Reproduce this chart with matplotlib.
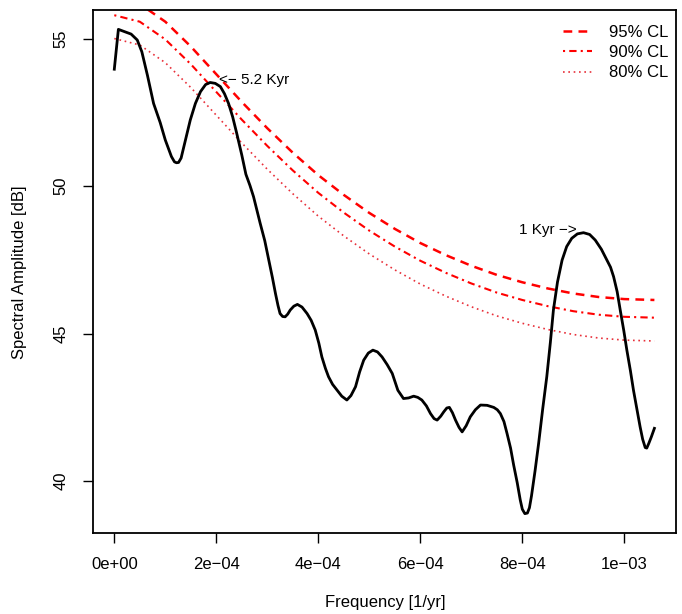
import numpy as np
import matplotlib
matplotlib.use('Agg')
import matplotlib.pyplot as plt

plt.rcParams['font.family'] = ['Liberation Sans', 'DejaVu Sans']

# spectrum (frequency in 1e-3 1/yr, amplitude in dB)
freq = [0.000, 0.008, 0.033, 0.045, 0.054, 0.065, 0.077, 0.090, 0.100, 0.112,
        0.118, 0.122, 0.126, 0.131, 0.140, 0.149, 0.159, 0.169, 0.179, 0.188,
        0.198, 0.208, 0.216, 0.224, 0.232, 0.240, 0.250, 0.258, 0.266, 0.273,
        0.286, 0.295, 0.303, 0.310, 0.316, 0.321, 0.325, 0.330, 0.335, 0.340,
        0.345, 0.352, 0.359, 0.368, 0.378, 0.386, 0.394, 0.401, 0.407, 0.414,
        0.420, 0.428, 0.437, 0.446, 0.456, 0.464, 0.473, 0.481, 0.489, 0.498,
        0.507, 0.516, 0.525, 0.535, 0.545, 0.556, 0.567, 0.577, 0.587, 0.595,
        0.603, 0.612, 0.620, 0.627, 0.633, 0.640, 0.646, 0.652, 0.657, 0.663,
        0.669, 0.676, 0.682, 0.690, 0.698, 0.708, 0.718, 0.731, 0.744, 0.751,
        0.757, 0.764, 0.770, 0.777, 0.783, 0.790, 0.796, 0.800, 0.805, 0.810,
        0.814, 0.818, 0.825, 0.832, 0.840, 0.848, 0.855, 0.861, 0.869, 0.878,
        0.887, 0.897, 0.908, 0.920, 0.932, 0.943, 0.955, 0.966, 0.973, 0.979,
        0.986, 0.992, 0.999, 1.005, 1.012, 1.018, 1.025, 1.031, 1.036, 1.041,
        1.044, 1.048, 1.053, 1.059]
amp = [53.96, 55.31, 55.15, 54.95, 54.55, 53.75, 52.80, 52.15, 51.56, 51.00,
       50.82, 50.79, 50.80, 50.95, 51.60, 52.24, 52.80, 53.20, 53.44, 53.51,
       53.48, 53.37, 53.13, 52.80, 52.35, 51.79, 51.05, 50.40, 50.02, 49.64,
       48.74, 48.15, 47.49, 46.90, 46.36, 45.95, 45.68, 45.58, 45.57, 45.66,
       45.80, 45.93, 45.99, 45.90, 45.68, 45.45, 45.12, 44.68, 44.21, 43.82,
       43.54, 43.28, 43.08, 42.88, 42.75, 42.90, 43.20, 43.70, 44.10, 44.34,
       44.44, 44.38, 44.21, 43.95, 43.65, 43.08, 42.80, 42.82, 42.88, 42.84,
       42.75, 42.55, 42.29, 42.12, 42.07, 42.20, 42.35, 42.48, 42.50, 42.32,
       42.07, 41.82, 41.67, 41.88, 42.18, 42.42, 42.58, 42.57, 42.50, 42.42,
       42.29, 42.02, 41.62, 41.12, 40.55, 39.95, 39.36, 39.05, 38.90, 38.92,
       39.10, 39.50, 40.35, 41.28, 42.45, 43.54, 44.70, 45.80, 46.75, 47.49,
       47.95, 48.23, 48.38, 48.42, 48.36, 48.17, 47.86, 47.49, 47.25, 46.93,
       46.42, 45.80, 45.10, 44.44, 43.74, 43.08, 42.42, 41.84, 41.42, 41.14,
       41.12, 41.28, 41.50, 41.79]

# confidence levels of the background spectrum
cl_freq = [0.00, 0.05, 0.10, 0.15, 0.20, 0.25, 0.30, 0.35, 0.40, 0.45, 0.50, 0.55,
           0.60, 0.65, 0.70, 0.75, 0.80, 0.85, 0.90, 0.95, 1.00, 1.059]
cl95 = [56.39, 56.17, 55.57, 54.73, 53.79, 52.85, 51.96, 51.13, 50.37, 49.70, 49.09,
        48.55, 48.07, 47.66, 47.30, 46.99, 46.74, 46.53, 46.36, 46.24, 46.17, 46.14]
cl90 = [55.79, 55.57, 54.97, 54.13, 53.19, 52.25, 51.36, 50.53, 49.77, 49.10, 48.49,
        47.95, 47.47, 47.06, 46.70, 46.39, 46.14, 45.93, 45.76, 45.64, 45.57, 45.54]
cl80 = [55.00, 54.78, 54.18, 53.34, 52.40, 51.46, 50.57, 49.74, 48.98, 48.31, 47.70,
        47.16, 46.68, 46.27, 45.91, 45.60, 45.35, 45.14, 44.97, 44.85, 44.78, 44.75]
cl_labels = ['95% CL', '90% CL', '80% CL']

xticks = [0.0, 0.2, 0.4, 0.6, 0.8, 1.0]
xticklabels = ['0e+00', '2e\u221204', '4e\u221204', '6e\u221204', '8e\u221204', '1e\u221203']
yticks = [40, 45, 50, 55]

f = np.array(freq) * 1e-3
cf = np.array(cl_freq) * 1e-3

fig = plt.figure(figsize=(6.82, 6.14), dpi=100)
ax = fig.add_axes([92.7 / 682, 1 - 533 / 614, (676 - 92.7) / 682, (533 - 10) / 614])

l95, = ax.plot(cf, cl95, color='red', lw=1.8, linestyle=(0, (3.5, 2.5)))
l90, = ax.plot(cf, cl90, color='red', lw=1.5, linestyle=(0, (1, 2, 3.5, 2)))
l80, = ax.plot(cf, cl80, color='#e8303a', lw=1.2, linestyle=(0, (1, 2.2)))
ax.plot(f, amp, color='black', lw=2.0, solid_joinstyle='round')

# R-style 4% padding
xr = f.max() - f.min()
yr = max(amp) - min(amp)
ax.set_xlim(f.min() - 0.04 * xr, f.max() + 0.04 * xr)
ax.set_ylim(min(amp) - 0.04 * yr, max(amp) + 0.04 * yr)

ax.set_xticks(np.array(xticks) * 1e-3)
ax.set_xticklabels(xticklabels)
ax.set_yticks(yticks)
ax.set_yticklabels([str(v) for v in yticks], rotation=90, va='center')
ax.tick_params(axis='both', direction='out', length=7.2, width=1.0, labelsize=12)
ax.tick_params(axis='x', pad=10)
ax.tick_params(axis='y', pad=10)
for s in ax.spines.values():
    s.set_linewidth(1.3)

ax.text(0.2045e-3, 53.59, '<\u2212 5.2 Kyr', fontsize=11, ha='left', va='center')
ax.text(0.907e-3, 48.51, '1 Kyr \u2212>', fontsize=11, ha='right', va='center')

ax.legend([l95, l90, l80], cl_labels, loc='upper right', frameon=False, fontsize=12,
          handlelength=1.75, handletextpad=1.0, labelspacing=0.32,
          borderaxespad=0.3, bbox_to_anchor=(1.007, 0.994))

fig.text(385 / 682, 1 - 603 / 614, 'Frequency [1/yr]', fontsize=12, ha='center', va='center')
fig.text(20 / 682, 1 - 272 / 614, 'Spectral Amplitude [dB]', fontsize=12,
         rotation=90, ha='center', va='center')

fig.savefig('out.png', dpi=100)
